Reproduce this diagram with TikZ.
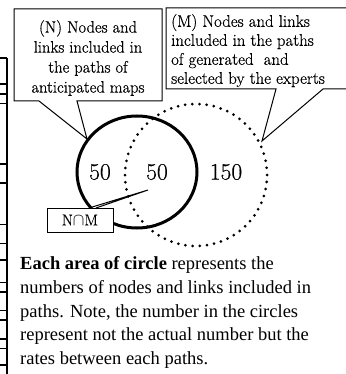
\documentclass[tikz,border=0pt]{standalone}
\usetikzlibrary{shapes.geometric}
\usepackage{fontspec}
\newfontfamily\timesfont{Liberation Serif}
\newfontfamily\heavyfont{Latin Modern Roman}[FakeBold=0.5]
\begin{document}
\begin{tikzpicture}[x=1pt,y=-1pt,
  callout/.style={draw=black,line width=1pt,fill=white,line join=miter},
  boxtext/.style={font=\heavyfont\fontsize{16.5}{20}\selectfont,inner sep=0pt},
  mboxtext/.style={font=\heavyfont\fontsize{16.8}{19}\selectfont,inner sep=0pt},
  numtext/.style={font=\heavyfont\fontsize{23.5}{24}\selectfont,inner sep=0pt},
  bodytext/.style={font=\timesfont\fontsize{18.5}{23.5}\selectfont,inner sep=0pt,anchor=base west},
  tick/.style={line width=1.4pt},
  solidring/.style={line width=3pt},
  dotring/.style={line width=3pt,line cap=round,dash pattern=on 0pt off 7.2pt}]
\useasboundingbox (0,0) rectangle (345,374);
% left edge rule with ticks
\coordinate (rtop) at (7,58);
\coordinate (rbot) at (7,374);
\draw[tick] (rtop) -- (rbot);
\foreach \yy/\w in {58/1.2,84/1.4,94/2,103/0.8,164/1.2,183/1.4,224/0.8,243/0.8,260/2,282/1,292/1.4,310/0.8,320/1.4,339/1.4,348/0.8,365/1.4}{
  \draw[line width=\w pt] (0,\yy) -- (7,\yy);
}
% circles
\node[solidring,draw,ellipse,minimum width=120pt,minimum height=112pt,inner sep=0pt] (N) at (137,172) {};
\node[dotring,draw,circle,minimum size=142pt,inner sep=0pt] (M) at (196,175) {};
% N callout
\coordinate (ntip) at (87,139);
\draw[callout] (14,9) -- (162,9) -- (162,101) -- (77,101) -- (ntip) -- (39,101) -- (14,101) -- cycle;
\node[boxtext,align=center] (ntext) at (88,58) {(N) Nodes and\\links included in\\the paths of\\anticipated maps};
% M callout
\coordinate (mtip) at (262,141);
\draw[callout] (166,8) -- (352,8) -- (352,89) -- (323,89) -- (mtip) -- (276,89) -- (166,89) -- cycle;
\node[mboxtext,align=left,anchor=north west] (mtext) at (171,14) {(M) Nodes and links\\included in the paths\\of generated\ \ and\\selected by the experts};
% numbers
\node[numtext] (n1) at (100,172) {50};
\node[numtext] (n2) at (157,172) {50};
\node[numtext] (n3) at (226,172) {150};
% intersection label
\coordinate (itip) at (148,190);
\draw[line width=1pt] (89,208) -- (itip) -- (96,208);
\node[draw,line width=1pt,fill=white,minimum width=66pt,minimum height=24pt,inner sep=0pt,font=\heavyfont\fontsize{16}{18}\selectfont] (nm) at (80,220) {N$\cap$M};
% bottom text
\node[bodytext] (b1) at (20,269) {\textbf{Each area of circle} represents the};
\node[bodytext] (b2) at (20,293.5) {numbers of nodes and links included in};
\node[bodytext] (b3) at (20,317) {paths. Note, the number in the circles};
\node[bodytext] (b4) at (20,340.5) {represent not the actual number but the};
\node[bodytext] (b5) at (20,364) {rates between each paths.};
\end{tikzpicture}
\end{document}
